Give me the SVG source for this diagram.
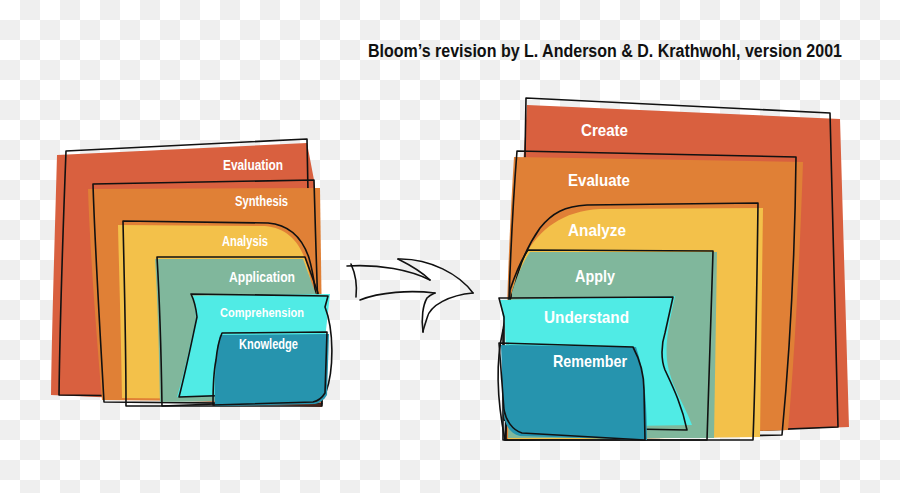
<svg xmlns="http://www.w3.org/2000/svg" width="900" height="493" viewBox="0 0 900 493">
<defs>
<pattern id="chk" width="40" height="40" patternUnits="userSpaceOnUse">
<rect width="40" height="40" fill="#ffffff"/>
<rect x="20" y="0" width="20" height="20" fill="#efefef"/>
<rect x="0" y="20" width="20" height="20" fill="#efefef"/>
</pattern>
<style>
.ol{fill:none;stroke:#111;stroke-width:1.6;stroke-linejoin:round;stroke-linecap:round}
.red{fill:#d9603f}.org{fill:#e08036}.yel{fill:#f3c14a}.grn{fill:#80b79c}.cyn{fill:#50ebe5}.teal{fill:#2694ae}
.lbl{font-family:"Liberation Sans","Noto Sans",sans-serif;font-weight:bold;fill:#ffffff;text-anchor:start}
.ttl{font-family:"Liberation Sans","Noto Sans",sans-serif;font-weight:bold;fill:#111;font-size:18px}
</style>
</defs>
<rect width="900" height="493" fill="url(#chk)"/>
<text class="ttl" x="368" y="57" textLength="474" lengthAdjust="spacingAndGlyphs">Bloom’s revision by L. Anderson &amp; D. Krathwohl, version 2001</text>

<!-- Left diagram -->
<g id="left-evaluation">
<path class="red" d="M57,155 L307,143 L314,180 L322,407 L51,395 C52,320 55,230 57,155 Z"/>
<path class="ol" d="M66,151 L307,139 L310,300 L312,398 L59,395 C60,320 63,230 66,151 Z"/>
<text class="lbl" x="223" y="170" font-size="14" textLength="60" lengthAdjust="spacingAndGlyphs">Evaluation</text>
</g>
<g id="left-synthesis">
<path class="org" d="M88,189 L320,188 L323,402 L102,400 C96,330 90,250 88,189 Z"/>
<path class="ol" d="M93,184 L314,180 C316,250 318,330 322,404 L104,402 C100,330 95,250 93,184 Z"/>
<text class="lbl" x="235" y="206" font-size="14" textLength="53" lengthAdjust="spacingAndGlyphs">Synthesis</text>
</g>
<g id="left-analysis">
<path class="yel" d="M118,225 L265,226 C288,228 300,243 306,262 C312,280 316,310 318,340 L322,400 L122,398 C121,330 119,270 118,225 Z"/>
<path class="ol" d="M123,221 L268,223 C292,225 303,240 309,258 C314,275 317,300 318,330 L322,406 L126,406 C126,340 124,270 123,221 Z"/>
<text class="lbl" x="222" y="246" font-size="14" textLength="46" lengthAdjust="spacingAndGlyphs">Analysis</text>
</g>
<g id="left-application">
<path class="grn" d="M155,259 L303,259 L318,300 L320,400 L160,402 C159,340 157,290 155,259 Z"/>
<path class="ol" d="M157,257 L305,257 L318,293 L320,400 L162,406 C161,340 159,290 157,257 Z"/>
<text class="lbl" x="229" y="282" font-size="14" textLength="66" lengthAdjust="spacingAndGlyphs">Application</text>
</g>
<g id="left-comprehension">
<path class="cyn" d="M193,296 L330,294 L326,330 L322,395 L177,397 C185,370 191,340 196,318 C195,308 194,302 193,296 Z"/>
<path class="ol" d="M191,294 L328,296 L325,307 C334,330 334,370 326,392 L179,397 C186,370 192,340 197,317 C196,308 194,300 191,294 Z"/>
<text class="lbl" x="220" y="317" font-size="13" textLength="84" lengthAdjust="spacingAndGlyphs">Comprehension</text>
</g>
<g id="left-knowledge">
<path class="teal" d="M220,335 L329,334 L327,395 C324,400 320,403 315,404 L215,406 C214,380 216,350 220,335 Z"/>
<path class="ol" d="M222,333 L327,332 L325,393 C322,398 318,401 313,402 L213,405 C213,385 214,370 216,360 C217,350 219,340 222,333 Z"/>
<text class="lbl" x="239" y="349" font-size="14" textLength="59" lengthAdjust="spacingAndGlyphs">Knowledge</text>
</g>

<!-- Right diagram -->
<g id="right-create">
<path class="red" d="M527,105 L840,119 L849,427 L505,440 C510,330 520,220 527,105 Z"/>
<path class="ol" d="M526,98 L830,113 L838,427 L520,440 C522,330 524,220 526,98 Z"/>
<text class="lbl" x="581" y="136" font-size="17" textLength="47" lengthAdjust="spacingAndGlyphs">Create</text>
</g>
<g id="right-evaluate">
<path class="org" d="M514,157 L803,162 C800,250 795,350 788,430 L505,440 C505,350 508,250 514,157 Z"/>
<path class="ol" d="M517,151 L796,157 C795,250 790,350 782,435 L506,440 C507,340 510,240 517,151 Z"/>
<text class="lbl" x="568" y="186" font-size="17" textLength="62" lengthAdjust="spacingAndGlyphs">Evaluate</text>
</g>
<g id="right-analyze">
<path class="yel" d="M600,209 L763,208 C762,280 761,360 760,437 L508,440 L510,300 C520,250 545,212 600,209 Z"/>
<path class="ol" d="M587,205 L758,203 C757,280 756,360 753,440 L503,440 L503,330 C505,315 510,300 515,285 C520,262 528,245 540,228 C552,213 565,206 587,205 Z"/>
<path class="ol" d="M503,330 C496,360 497,400 505,440"/>
<text class="lbl" x="568" y="236" font-size="17" textLength="58" lengthAdjust="spacingAndGlyphs">Analyze</text>
</g>
<g id="right-apply">
<path class="grn" d="M530,252 L717,252 L714,438 L508,438 L512,292 C517,276 523,262 530,252 Z"/>
<path class="ol" d="M528,250 L713,251 C711,320 709,390 707,440 L505,440 L510,290 C515,275 521,260 528,250 Z"/>
<text class="lbl" x="575" y="282" font-size="17" textLength="40" lengthAdjust="spacingAndGlyphs">Apply</text>
</g>
<g id="right-understand">
<path class="cyn" d="M500,300 L675,296 C670,320 665,340 667,360 C670,385 685,405 692,425 L510,428 L505,330 Z"/>
<path class="ol" d="M499,298 L673,297 L665,333 C661,345 661,360 665,370 C672,385 682,405 687,430 L523,427 L504,420 L504,317 Z"/>
<text class="lbl" x="544" y="323" font-size="17" textLength="85" lengthAdjust="spacingAndGlyphs">Understand</text>
</g>
<g id="right-remember">
<path class="teal" d="M501,345 L636,347 C642,365 647,390 647,440 L520,436 C506,432 503,420 503,400 Z"/>
<path class="ol" d="M499,343 L633,347 C640,360 644,375 644,390 L645,440 L522,433 C512,430 506,420 504,410 Z"/>
<text class="lbl" x="553" y="367" font-size="17" textLength="74" lengthAdjust="spacingAndGlyphs">Remember</text>
</g>

<g id="connectors">
<path class="ol" d="M347,266 C380,264 410,270 430,280"/>
<path class="ol" d="M398,259 C412,266 423,273 430,280"/>
<path class="ol" d="M398,259 C430,258 460,275 473,293"/>
<path class="ol" d="M473,293 C450,295 430,305 427,318 C425,325 423,330 423,332"/>
<path class="ol" d="M423,332 C421,318 423,305 427,298 C430,295 433,294 435,293"/>
<path class="ol" d="M435,293 C410,290 380,292 360,300"/>
<path class="ol" d="M351,264 C356,275 357,288 356,297"/>
</g>
</svg>
